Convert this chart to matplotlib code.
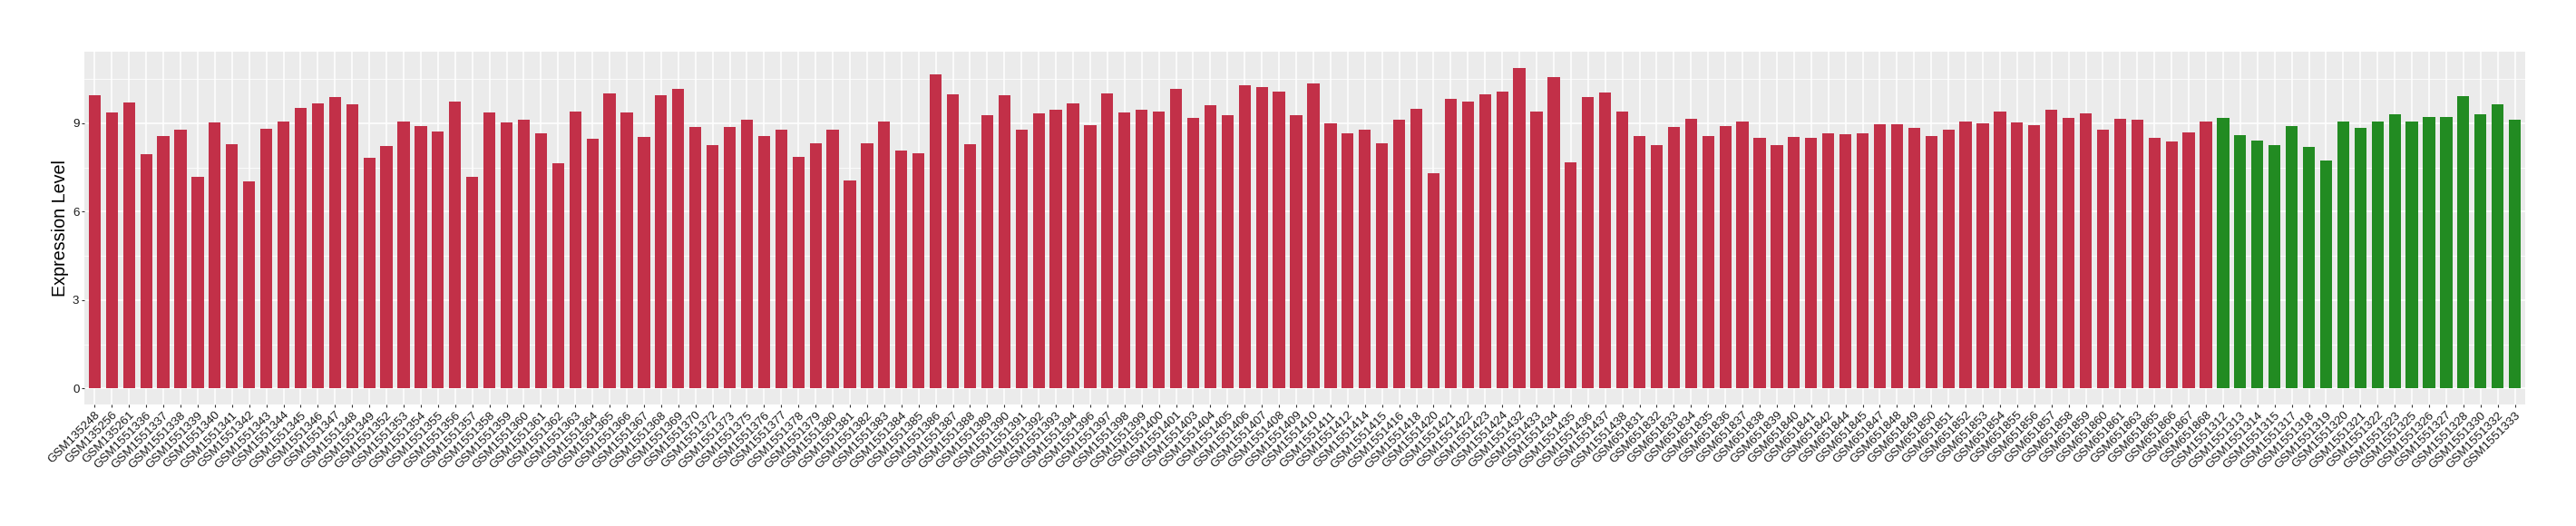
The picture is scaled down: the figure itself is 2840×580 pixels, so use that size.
import numpy as np
import matplotlib
matplotlib.use("Agg")
import matplotlib.pyplot as plt

plt.rcParams['font.family'] = ['Liberation Sans', 'DejaVu Sans']

# Sample names (group 1 = red, group 2 = green)
red_samples = [
    "GSM135248", "GSM135256", "GSM135261",
    "GSM1551336", "GSM1551337", "GSM1551338", "GSM1551339", "GSM1551340",
    "GSM1551341", "GSM1551342", "GSM1551343", "GSM1551344", "GSM1551345",
    "GSM1551346", "GSM1551347", "GSM1551348", "GSM1551349", "GSM1551352",
    "GSM1551353", "GSM1551354", "GSM1551355", "GSM1551356", "GSM1551357",
    "GSM1551358", "GSM1551359", "GSM1551360", "GSM1551361", "GSM1551362",
    "GSM1551363", "GSM1551364", "GSM1551365", "GSM1551366", "GSM1551367",
    "GSM1551368", "GSM1551369", "GSM1551370", "GSM1551372", "GSM1551373",
    "GSM1551375", "GSM1551376", "GSM1551377", "GSM1551378", "GSM1551379",
    "GSM1551380", "GSM1551381", "GSM1551382", "GSM1551383", "GSM1551384",
    "GSM1551385", "GSM1551386", "GSM1551387", "GSM1551388", "GSM1551389",
    "GSM1551390", "GSM1551391", "GSM1551392", "GSM1551393", "GSM1551394",
    "GSM1551396", "GSM1551397", "GSM1551398", "GSM1551399", "GSM1551400",
    "GSM1551401", "GSM1551403", "GSM1551404", "GSM1551405", "GSM1551406",
    "GSM1551407", "GSM1551408", "GSM1551409", "GSM1551410", "GSM1551411",
    "GSM1551412", "GSM1551414", "GSM1551415", "GSM1551416", "GSM1551418",
    "GSM1551420", "GSM1551421", "GSM1551422", "GSM1551423", "GSM1551424",
    "GSM1551432", "GSM1551433", "GSM1551434", "GSM1551435", "GSM1551436",
    "GSM1551437", "GSM1551438",
    "GSM651831", "GSM651832", "GSM651833", "GSM651834", "GSM651835",
    "GSM651836", "GSM651837", "GSM651838", "GSM651839", "GSM651840",
    "GSM651841", "GSM651842", "GSM651844", "GSM651845", "GSM651847",
    "GSM651848", "GSM651849", "GSM651850", "GSM651851", "GSM651852",
    "GSM651853", "GSM651854", "GSM651855", "GSM651856", "GSM651857",
    "GSM651858", "GSM651859", "GSM651860", "GSM651861", "GSM651863",
    "GSM651865", "GSM651866", "GSM651867", "GSM651868",
]

green_samples = [
    "GSM1551312", "GSM1551313", "GSM1551314", "GSM1551315", "GSM1551317",
    "GSM1551318", "GSM1551319", "GSM1551320", "GSM1551321", "GSM1551322",
    "GSM1551323", "GSM1551325", "GSM1551326", "GSM1551327", "GSM1551328",
    "GSM1551330", "GSM1551332", "GSM1551333",
]

# Expression values
red_values = [
    9.96, 9.35, 9.71, 7.94, 8.55, 8.77, 7.17, 9.01, 8.28, 7.02, 8.80, 9.04,
    9.53, 9.68, 9.90, 9.65, 7.82, 8.21, 9.04, 8.89, 8.73, 9.74, 7.17, 9.35,
    9.01, 9.13, 8.64, 7.63, 9.38, 8.46, 10.02, 9.35, 8.52, 9.96, 10.17, 8.86,
    8.24, 8.86, 9.13, 8.55, 8.77, 7.85, 8.31, 8.77, 7.05, 8.31, 9.04, 8.06,
    7.97, 10.66, 9.99, 8.28, 9.26, 9.96, 8.77, 9.32, 9.47, 9.68, 8.92, 10.02,
    9.35, 9.44, 9.38, 10.17, 9.19, 9.62, 9.26, 10.30, 10.23, 10.08, 9.26, 10.36,
    8.98, 8.67, 8.77, 8.31, 9.13, 9.50, 7.30, 9.81, 9.74, 9.99, 10.08, 10.88,
    9.38, 10.57, 7.66, 9.90, 10.05, 9.38, 8.55, 8.24, 8.86, 9.16, 8.55, 8.89,
    9.04, 8.49, 8.24, 8.52, 8.49, 8.64, 8.61, 8.67, 8.95, 8.95, 8.83, 8.55,
    8.77, 9.07, 8.98, 9.38, 9.01, 8.92, 9.44, 9.19, 9.32, 8.77, 9.16, 9.13,
    8.49, 8.37, 8.70, 9.04,
]

green_values = [
    9.19, 8.58, 8.40, 8.24, 8.89, 8.18, 7.72, 9.07, 8.83, 9.04, 9.29, 9.04,
    9.22, 9.22, 9.93, 9.29, 9.65, 9.13,
]

RED = "#C23048"
GREEN = "#228B22"


def main():
    samples = red_samples + green_samples
    values = np.array(red_values + green_values)
    colors = [RED] * len(red_samples) + [GREEN] * len(green_samples)
    x = np.arange(len(samples))

    W, H = 2840, 580
    fig = plt.figure(figsize=(W / 100, H / 100), dpi=100)
    # panel placement in pixels (left, top, right, bottom)
    left, top, right, bottom = 93, 57, 2784, 446
    ax = fig.add_axes([left / W, 1 - bottom / H, (right - left) / W, (bottom - top) / H])

    ax.set_facecolor("#EBEBEB")
    ax.bar(x, values, width=0.7, color=colors, zorder=3)

    # ggplot-like expansion
    ymax = values.max()
    ax.set_xlim(-0.6, len(samples) - 1 + 0.6)
    ax.set_ylim(-0.05 * ymax, 1.05 * ymax)

    ax.set_yticks([0, 3, 6, 9])
    ax.set_yticks([1.5, 4.5, 7.5, 10.5], minor=True)
    ax.set_xticks(x)
    ax.set_xticklabels(samples, rotation=45, ha="right", va="top",
                       rotation_mode="anchor", fontsize=9.6, color="#1a1a1a")
    ax.tick_params(axis="y", labelsize=9.6, labelcolor="#1a1a1a")
    ax.tick_params(which="major", length=2.5, width=0.8, color="#333333", pad=1.5)
    ax.tick_params(which="minor", length=0)
    ax.tick_params(axis="x", which="minor", bottom=False)

    ax.set_axisbelow(True)
    ax.grid(which="major", color="white", linewidth=1.1, zorder=0)
    ax.grid(which="minor", axis="y", color="white", linewidth=0.55, zorder=0)

    for s in ax.spines.values():
        s.set_visible(False)

    ax.set_ylabel("Expression Level", fontsize=14.2, labelpad=3)

    fig.savefig("out.png", dpi=100)


if __name__ == "__main__":
    main()
